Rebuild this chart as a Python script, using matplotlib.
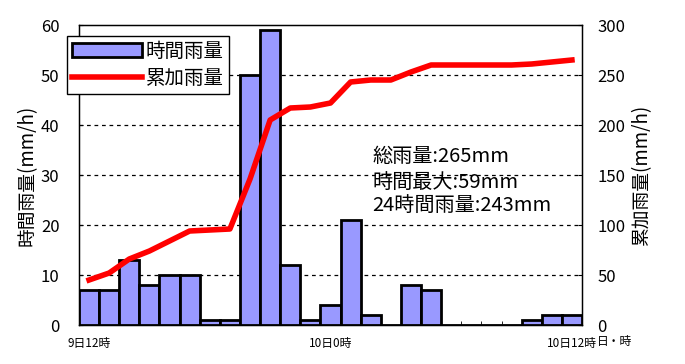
import numpy as np
import matplotlib
matplotlib.use("Agg")
import matplotlib.pyplot as plt

plt.rcParams['font.family'] = ['Noto Sans CJK JP', 'DejaVu Sans']

# hourly rain, 9日12時 .. 10日12時
hourly = [7, 7, 13, 8, 10, 10, 1, 1, 50, 59, 12, 1, 4, 21, 2, 0, 8, 7, 0, 0, 0, 0, 1, 2, 2]
# cumulative rain
cumulative = [45, 52, 66, 74, 84, 94, 95, 96, 146, 205, 217, 218, 222, 243, 245, 245, 253, 260,
              260, 260, 260, 260, 261, 263, 265]
tick_labels = {0: '9日12時', 12: '10日0時', 24: '10日12時'}
notes = ['総雨量:265mm', '時間最大:59mm', '24時間雨量:243mm']

fig = plt.figure(figsize=(6.85, 3.64), dpi=100)
ax = fig.add_axes([79/685, 1-325/364, 503/685, 300/364])
ax2 = ax.twinx()

x = np.arange(len(hourly)) + 0.5
bars = ax.bar(x, hourly, width=1.0, color='#9999ff', edgecolor='black', linewidth=2, zorder=3)
line, = ax2.plot(x, cumulative, color='#ff0000', linewidth=4, zorder=4)

ax.set_xlim(0, 25)
ax.set_ylim(0, 60)
ax2.set_ylim(0, 300)
ax.set_yticks(range(0, 61, 10))
ax2.set_yticks(range(0, 301, 50))
ax.set_xticks(np.arange(0, 26), minor=True)
ax.set_xticks([k + 0.5 for k in tick_labels])
ax.set_xticklabels(list(tick_labels.values()), fontsize=8.5)
ax.tick_params(axis='x', which='major', length=0, pad=9)
ax.tick_params(axis='x', which='minor', direction='in', length=3)
ax.tick_params(axis='y', direction='in', length=3, labelsize=12, pad=14)
ax2.tick_params(axis='y', direction='in', length=3, labelsize=12, pad=11)

for v in range(10, 60, 10):
    ax.axhline(v, color='black', linestyle=(0, (3, 3)), linewidth=0.9, zorder=1)

ax.set_ylabel('時間雨量(mm/h)', fontsize=13.5, labelpad=2)
ax2.set_ylabel('累加雨量(mm/h)', fontsize=13.5, labelpad=4)
fig.text(597/685, 1-342/364, '日・時', fontsize=8.5, ha='left', va='center')

for s in ax.spines.values():
    s.set_linewidth(1)
ax.patch.set_visible(False)
ax2.patch.set_visible(False)
ax.set_zorder(1)
ax2.set_zorder(2)

ys = [157, 182, 205]
for t, yy in zip(notes, ys):
    fig.text(372/685, 1-yy/364, t, fontsize=14.5, ha='left', va='center', zorder=5)

leg = fig.legend([bars, line], ['時間雨量', '累加雨量'], loc='upper left',
                 bbox_to_anchor=(67/685, 1-36/364), fontsize=14, frameon=True,
                 fancybox=False, edgecolor='black', framealpha=1, borderpad=0.25,
                 handlelength=3.6, handletextpad=0.2, labelspacing=0.3, borderaxespad=0)
leg.get_frame().set_linewidth(1)

fig.savefig('out.png', dpi=100)
